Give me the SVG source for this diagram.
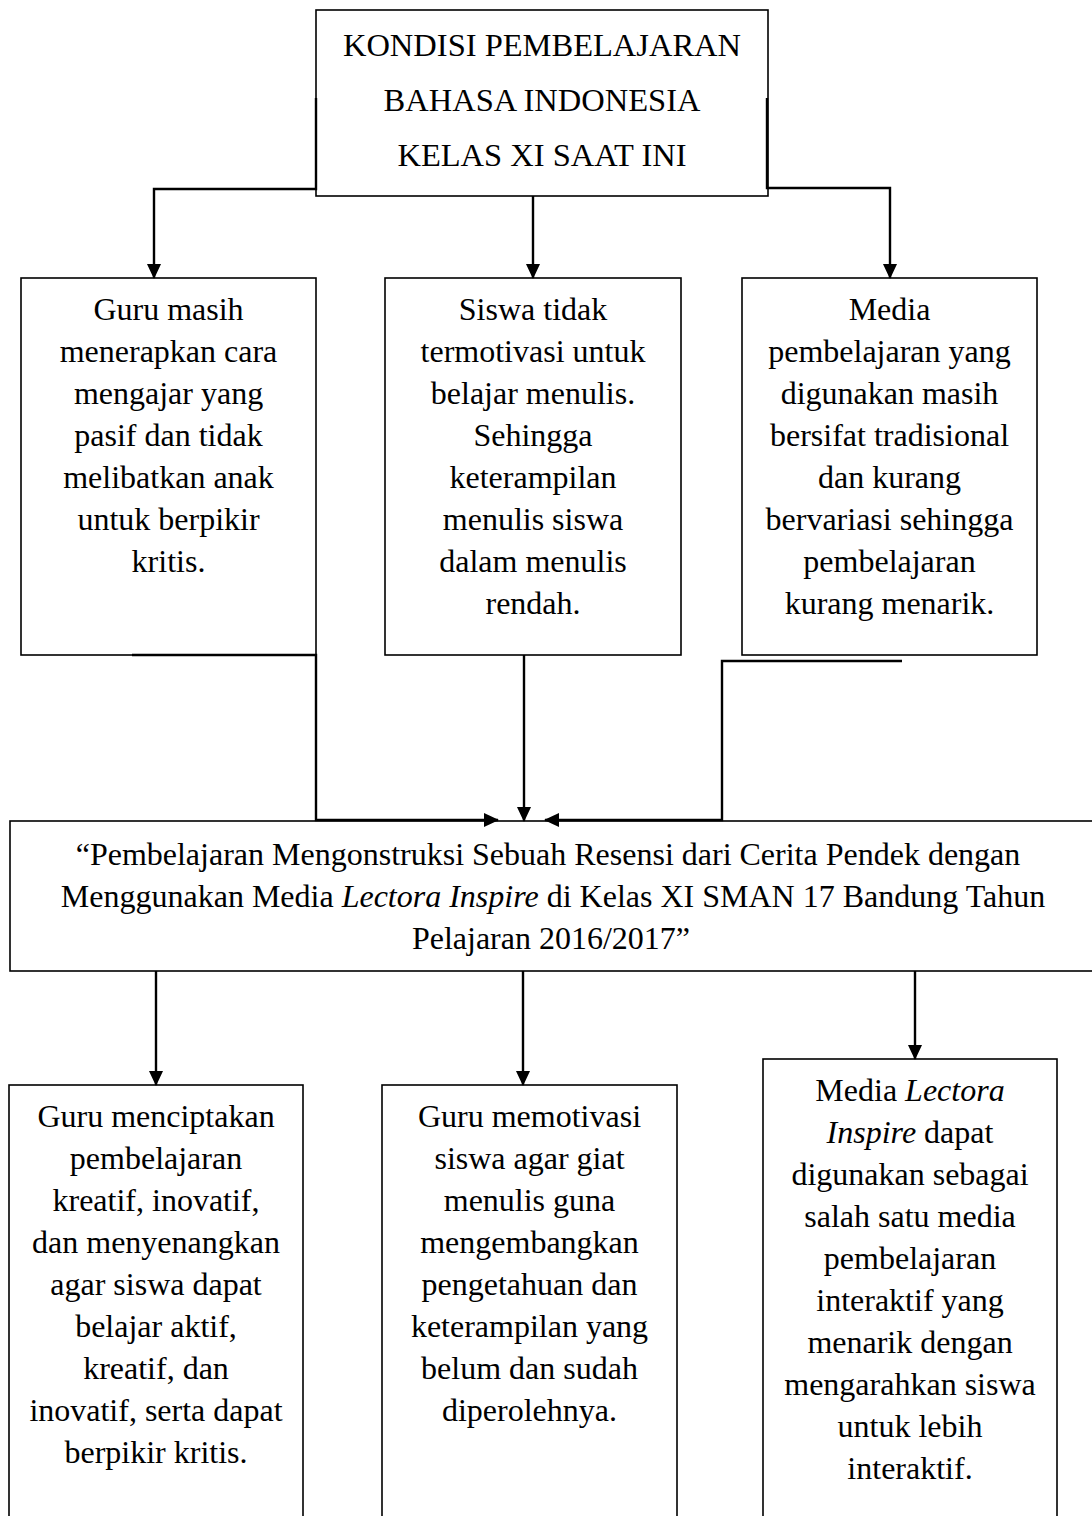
<svg xmlns="http://www.w3.org/2000/svg" width="1092" height="1516" viewBox="0 0 1092 1516">
<style>
.box{fill:#fff;stroke:#000;stroke-width:1.6}
.c{fill:none;stroke:#000;stroke-width:2.4}
text{font-family:"Liberation Serif","Times New Roman",serif;font-size:32px;fill:#000;text-anchor:middle}
.t{font-size:32.5px}
.i{font-style:italic}
</style>
<defs>
<marker id="ah" viewBox="0 0 15 14" refX="14" refY="7" markerWidth="15" markerHeight="14" markerUnits="userSpaceOnUse" orient="auto">
<path d="M0,0 L15,7 L0,14 z" fill="#000"/>
</marker>
</defs>
<rect width="1092" height="1516" fill="#fff"/>
<g id="n_top">
<rect class="box" x="316" y="10" width="452" height="186"/>
<text class="t" x="542" y="56">KONDISI PEMBELAJARAN</text>
<text class="t" x="542" y="111">BAHASA INDONESIA</text>
<text class="t" x="542" y="166">KELAS XI SAAT INI</text>
</g>
<g id="n_m1">
<rect class="box" x="21" y="278" width="295" height="377"/>
<text x="168.5" y="320">Guru masih</text>
<text x="168.5" y="362">menerapkan cara</text>
<text x="168.5" y="404">mengajar yang</text>
<text x="168.5" y="446">pasif dan tidak</text>
<text x="168.5" y="488">melibatkan anak</text>
<text x="168.5" y="530">untuk berpikir</text>
<text x="168.5" y="572">kritis.</text>
</g>
<g id="n_m2">
<rect class="box" x="385" y="278" width="296" height="377"/>
<text x="533" y="320">Siswa tidak</text>
<text x="533" y="362">termotivasi untuk</text>
<text x="533" y="404">belajar menulis.</text>
<text x="533" y="446">Sehingga</text>
<text x="533" y="488">keterampilan</text>
<text x="533" y="530">menulis siswa</text>
<text x="533" y="572">dalam menulis</text>
<text x="533" y="614">rendah.</text>
</g>
<g id="n_m3">
<rect class="box" x="742" y="278" width="295" height="377"/>
<text x="889.5" y="320">Media</text>
<text x="889.5" y="362">pembelajaran yang</text>
<text x="889.5" y="404">digunakan masih</text>
<text x="889.5" y="446">bersifat tradisional</text>
<text x="889.5" y="488">dan kurang</text>
<text x="889.5" y="530">bervariasi sehingga</text>
<text x="889.5" y="572">pembelajaran</text>
<text x="889.5" y="614">kurang menarik.</text>
</g>
<g id="n_main">
<rect class="box" x="10" y="821" width="1100" height="150"/>
<text x="548" y="865">“Pembelajaran Mengonstruksi Sebuah Resensi dari Cerita Pendek dengan</text>
<text x="553" y="907">Menggunakan Media <tspan class="i">Lectora Inspire</tspan> di Kelas XI SMAN 17 Bandung Tahun</text>
<text x="551" y="949">Pelajaran 2016/2017”</text>
</g>
<g id="n_b1">
<rect class="box" x="9" y="1085" width="294" height="460"/>
<text x="156" y="1127">Guru menciptakan</text>
<text x="156" y="1169">pembelajaran</text>
<text x="156" y="1211">kreatif, inovatif,</text>
<text x="156" y="1253">dan menyenangkan</text>
<text x="156" y="1295">agar siswa dapat</text>
<text x="156" y="1337">belajar aktif,</text>
<text x="156" y="1379">kreatif, dan</text>
<text x="156" y="1421">inovatif, serta dapat</text>
<text x="156" y="1463">berpikir kritis.</text>
</g>
<g id="n_b2">
<rect class="box" x="382" y="1085" width="295" height="460"/>
<text x="529.5" y="1127">Guru memotivasi</text>
<text x="529.5" y="1169">siswa agar giat</text>
<text x="529.5" y="1211">menulis guna</text>
<text x="529.5" y="1253">mengembangkan</text>
<text x="529.5" y="1295">pengetahuan dan</text>
<text x="529.5" y="1337">keterampilan yang</text>
<text x="529.5" y="1379">belum dan sudah</text>
<text x="529.5" y="1421">diperolehnya.</text>
</g>
<g id="n_b3">
<rect class="box" x="763" y="1059" width="294" height="480"/>
<text x="910" y="1101">Media <tspan class="i">Lectora</tspan></text>
<text x="910" y="1143"><tspan class="i">Inspire</tspan> dapat</text>
<text x="910" y="1185">digunakan sebagai</text>
<text x="910" y="1227">salah satu media</text>
<text x="910" y="1269">pembelajaran</text>
<text x="910" y="1311">interaktif yang</text>
<text x="910" y="1353">menarik dengan</text>
<text x="910" y="1395">mengarahkan siswa</text>
<text x="910" y="1437">untuk lebih</text>
<text x="910" y="1479">interaktif.</text>
</g>
<g id="connectors">
<path class="c" d="M316,98 V189 H154 V278" marker-end="url(#ah)"/>
<path class="c" d="M533,196 V278" marker-end="url(#ah)"/>
<path class="c" d="M767,98 V188 H890 V278" marker-end="url(#ah)"/>
<path class="c" d="M132,655 H316 V820 H498" marker-end="url(#ah)"/>
<path class="c" d="M524,655 V821" marker-end="url(#ah)"/>
<path class="c" d="M902,661 H722 V820 H545" marker-end="url(#ah)"/>
<path class="c" d="M156,971 V1085" marker-end="url(#ah)"/>
<path class="c" d="M523,971 V1085" marker-end="url(#ah)"/>
<path class="c" d="M915,971 V1059" marker-end="url(#ah)"/>
</g>
</svg>
